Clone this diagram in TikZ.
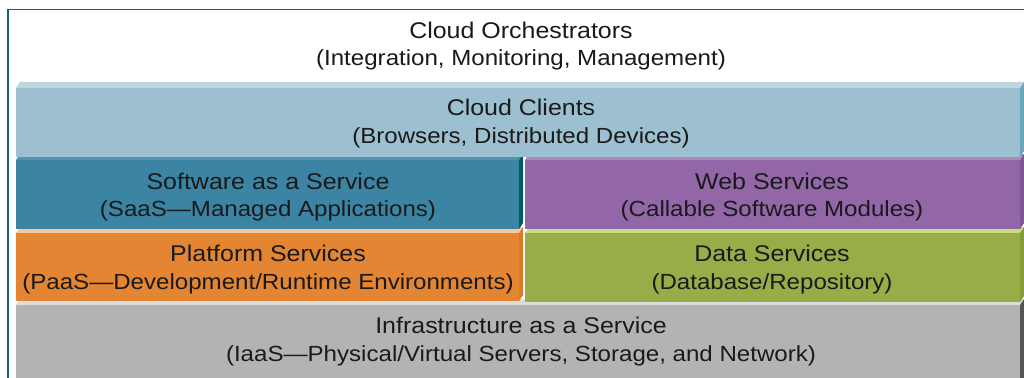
\documentclass[tikz,border=0pt]{standalone}
\usepackage{fontspec}
\setmainfont{Liberation Sans}[FakeStretch=1.1]
\definecolor{frameC}{HTML}{1E5A78}
\definecolor{txt}{HTML}{1A1A1A}
\definecolor{cliF}{HTML}{9DC0D1}\definecolor{cliT}{HTML}{BED6E0}\definecolor{cliS}{HTML}{6BA6BA}
\definecolor{saaF}{HTML}{3B84A3}\definecolor{saaT}{HTML}{5592AE}\definecolor{saaS}{HTML}{005A6B}
\definecolor{webF}{HTML}{9366A8}\definecolor{webT}{HTML}{A98ABB}\definecolor{webS}{HTML}{7D5791}
\definecolor{paaF}{HTML}{E38532}\definecolor{paaT}{HTML}{F6C8A0}\definecolor{paaS}{HTML}{E07A20}
\definecolor{datF}{HTML}{98AC48}\definecolor{datT}{HTML}{C9DB7E}\definecolor{datS}{HTML}{879B3A}
\definecolor{iaaF}{HTML}{B3B3B3}\definecolor{iaaT}{HTML}{DDDDDD}\definecolor{iaaS}{HTML}{555555}
% x1,y1,x2,y2,front,top,side
\newcommand\slab[7]{%
  \fill[#6] (#1,#2) -- (#1+4,#2-6) -- (#3+4,#2-6) -- (#3,#2) -- cycle;
  \fill[#7] (#3,#2) -- (#3+4,#2-6) -- (#3+4,#4-6) -- (#3,#4) -- cycle;
  \fill[#5] (#1,#2) rectangle (#3,#4);}
\newcommand\headline[1]{{\fontsize{22.7}{27.8}\selectfont #1}}
\tikzset{
  lbl/.style={font=\fontsize{21.9}{27.8}\selectfont, align=center, inner sep=0pt, text=txt},
  frameline/.style={draw=frameC, line width=1.5pt}
}
\begin{document}
\begin{tikzpicture}[x=1pt,y=-1pt]
\useasboundingbox (0,0) rectangle (1024,377);
\clip (0,0) rectangle (1024,377);
\fill[white] (0,0) rectangle (1024,377);
% slabs, bottom row first
\slab{16}{305}{1020}{385}{iaaF}{iaaT}{iaaS}
\slab{16}{233}{519}{301}{paaF}{paaT}{paaS}
\slab{525}{233}{1020}{302}{datF}{datT}{datS}
\slab{16}{160}{519}{229}{saaF}{saaT}{saaS}
\slab{525}{160}{1020}{229}{webF}{webT}{webS}
\slab{16}{88}{1020}{157}{cliF}{cliT}{cliS}
% frame
\draw[frameline] (8,390) -- (8,9.5) -- (1030,9.5);
% labels
\node[lbl] (orch) at (521,46) {\headline{Cloud Orchestrators}\\(Integration, Monitoring, Management)};
\node[lbl] (cli) at (521,123.5) {\headline{Cloud Clients}\\(Browsers, Distributed Devices)};
\node[lbl] (saas) at (268,197) {\headline{Software as a Service}\\(SaaS---Managed Applications)};
\node[lbl] (web) at (772,197) {\headline{Web Services}\\(Callable Software Modules)};
\node[lbl] (paas) at (268,269.5) {\headline{Platform Services}\\(PaaS---Development/Runtime Environments)};
\node[lbl] (data) at (772,269.5) {\headline{Data Services}\\(Database/Repository)};
\node[lbl] (iaas) at (521,341.5) {\headline{Infrastructure as a Service}\\(IaaS---Physical/Virtual Servers, Storage, and Network)};
\end{tikzpicture}
\end{document}
